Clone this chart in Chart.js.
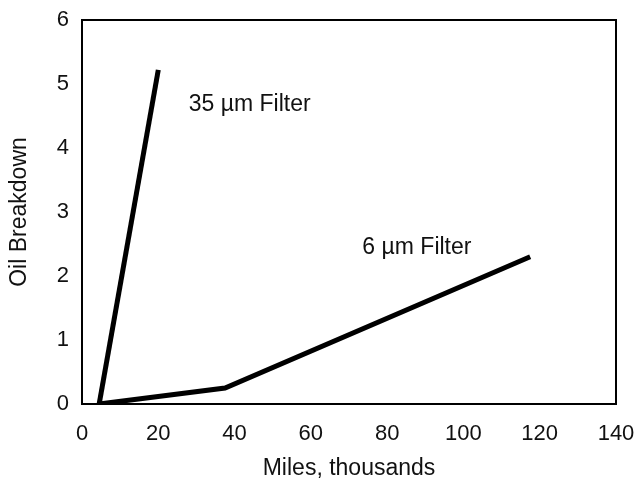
<!DOCTYPE html>
<html>
<head>
<meta charset="utf-8">
<script src="https://cdn.jsdelivr.net/npm/chart.js@4/dist/chart.umd.min.js"></script>
<style>
  html, body { margin: 0; padding: 0; background: #fff; }
  canvas { display: block; }
</style>
</head>
<body>
<canvas id="oilChart" width="641" height="482"></canvas>
<script>
// 주행거리(천 마일) 대비 오일 분해도
const miles35 = [4.5, 20];
const breakdown35 = [0, 5.22];
const miles6 = [4.5, 37.5, 117.5];
const breakdown6 = [0, 0.25, 2.3];

const xTicks = [0, 20, 40, 60, 80, 100, 120, 140];
const yTicks = [0, 1, 2, 3, 4, 5, 6];

// 라벨 (데이터 좌표 기준)
const seriesLabels = ['35 \u00b5m Filter', '6 \u00b5m Filter'];
const labelAnchors = [[28, 4.67], [73.5, 2.44]];

const FONT = 'Liberation Sans, Arial, Helvetica, sans-serif';

function toPoints(xs, ys) {
    return xs.map((x, i) => ({ x: x, y: ys[i] }));
}

// 축 라벨이 넘쳐도 플롯 영역이 줄지 않게
function noOverflow(s) {
    s.paddingLeft = 0;
    s.paddingRight = 0;
    s.paddingTop = 0;
    s.paddingBottom = 0;
}

// 플롯 영역 테두리 + 시리즈 라벨
const framePlugin = {
    id: 'frame',
    afterDraw(chart) {
        const { ctx, chartArea: a, scales } = chart;
        ctx.save();
        ctx.strokeStyle = '#000';
        ctx.lineWidth = 2;
        ctx.strokeRect(a.left, a.top, a.right - a.left, a.bottom - a.top);

        ctx.fillStyle = '#111';
        ctx.font = '23px ' + FONT;
        ctx.textBaseline = 'middle';
        ctx.textAlign = 'left';
        seriesLabels.forEach((txt, i) => {
            const px = scales.x.getPixelForValue(labelAnchors[i][0]);
            const py = scales.y.getPixelForValue(labelAnchors[i][1]);
            ctx.fillText(txt, px, py);
        });
        ctx.restore();
    }
};

new Chart(document.getElementById('oilChart'), {
    type: 'line',
    data: {
        datasets: [
            {
                label: seriesLabels[0],
                data: toPoints(miles35, breakdown35),
                borderColor: '#000',
                borderWidth: 5,
                pointRadius: 0,
                tension: 0
            },
            {
                label: seriesLabels[1],
                data: toPoints(miles6, breakdown6),
                borderColor: '#000',
                borderWidth: 5,
                pointRadius: 0,
                tension: 0
            }
        ]
    },
    options: {
        responsive: false,
        animation: false,
        layout: { padding: { top: 20, right: 25, left: 0, bottom: 0 } },
        plugins: {
            legend: { display: false },
            tooltip: { enabled: false }
        },
        scales: {
            x: {
                type: 'linear',
                min: 0,
                max: 140,
                afterBuildTicks: (s) => { s.ticks = xTicks.map(v => ({ value: v })); },
                afterFit: (s) => { s.height = 78; noOverflow(s); },
                grid: { display: false, drawTicks: false },
                border: { display: false },
                ticks: { color: '#111', padding: 17, maxRotation: 0, font: { family: FONT, size: 22 } },
                title: {
                    display: true,
                    text: 'Miles, thousands',
                    color: '#111',
                    padding: { top: 3, bottom: 0 },
                    font: { family: FONT, size: 23 }
                }
            },
            y: {
                min: 0,
                max: 6,
                afterBuildTicks: (s) => { s.ticks = yTicks.map(v => ({ value: v })); },
                afterFit: (s) => { s.width = 82; noOverflow(s); },
                grid: { display: false, drawTicks: false },
                border: { display: false },
                ticks: { color: '#111', padding: 13, font: { family: FONT, size: 22 } },
                title: {
                    display: true,
                    text: 'Oil Breakdown',
                    color: '#111',
                    padding: { top: 6, bottom: 0 },
                    font: { family: FONT, size: 23 }
                }
            }
        }
    },
    plugins: [framePlugin]
});
</script>
</body>
</html>
